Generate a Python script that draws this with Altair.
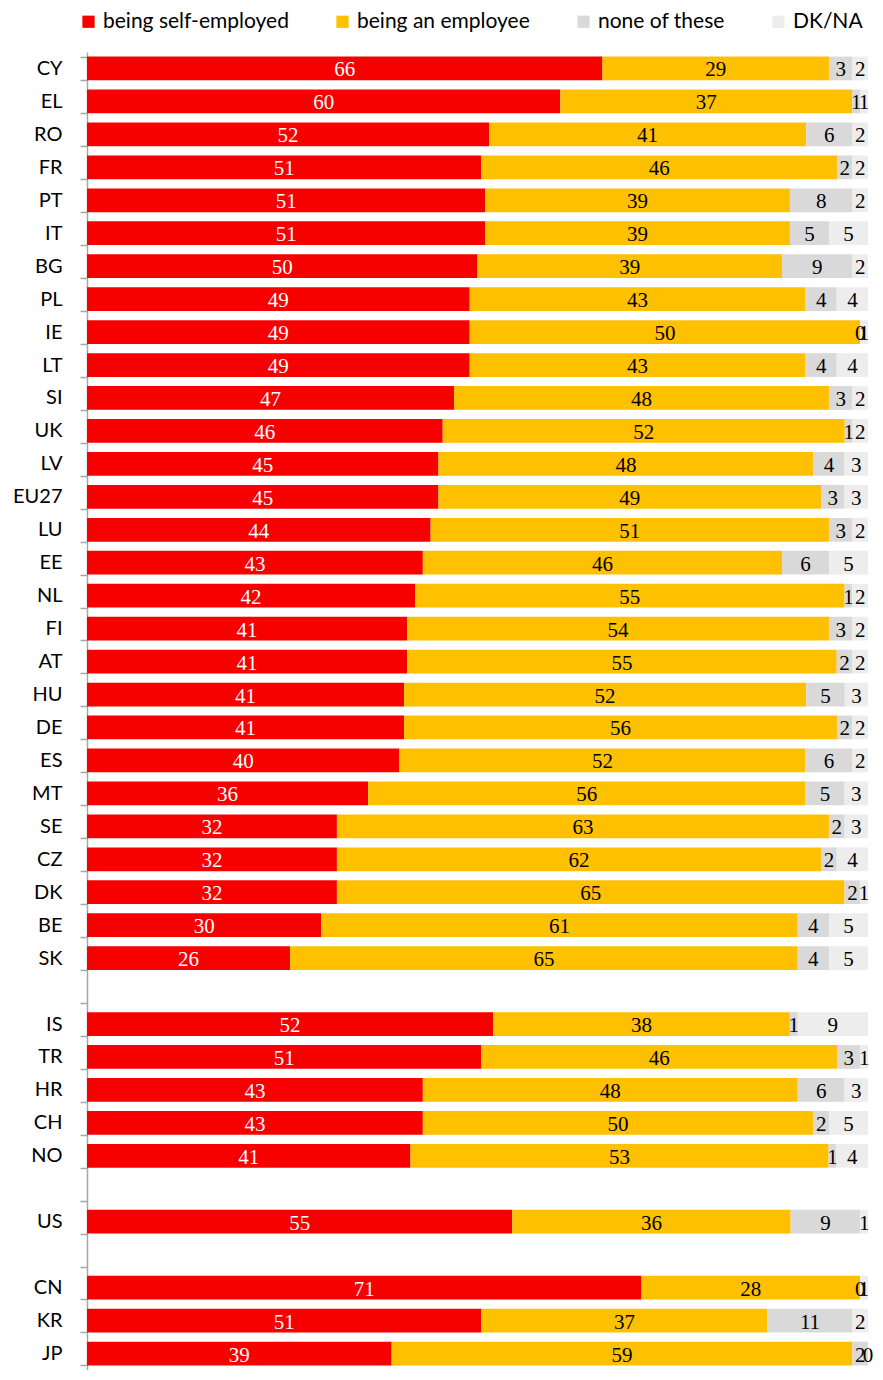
import altair as alt
import pandas as pd

countries = ["CY", "EL", "RO", "FR", "PT", "IT", "BG", "PL", "IE", "LT", "SI", "UK", "LV", "EU27",
             "LU", "EE", "NL", "FI", "AT", "HU", "DE", "ES", "MT", "SE", "CZ", "DK", "BE", "SK",
             "IS", "TR", "HR", "CH", "NO", "US", "CN", "KR", "JP"]
self_employed = [66, 60, 52, 51, 51, 51, 50, 49, 49, 49, 47, 46, 45, 45,
                 44, 43, 42, 41, 41, 41, 41, 40, 36, 32, 32, 32, 30, 26,
                 52, 51, 43, 43, 41, 55, 71, 51, 39]
employee = [29, 37, 41, 46, 39, 39, 39, 43, 50, 43, 48, 52, 48, 49,
            51, 46, 55, 54, 55, 52, 56, 52, 56, 63, 62, 65, 61, 65,
            38, 46, 48, 50, 53, 36, 28, 37, 59]
none_of_these = [3, 1, 6, 2, 8, 5, 9, 4, 0, 4, 3, 1, 4, 3,
                 3, 6, 1, 3, 2, 5, 2, 6, 5, 2, 2, 2, 4, 4,
                 1, 3, 6, 2, 1, 9, 0, 11, 2]
dk_na = [2, 1, 2, 2, 2, 5, 2, 4, 1, 4, 2, 2, 3, 3,
         2, 5, 2, 2, 2, 3, 2, 2, 3, 3, 4, 1, 5, 5,
         9, 1, 3, 5, 4, 1, 1, 2, 0]
categories = ["being self-employed", "being an employee", "none of these", "DK/NA"]
colors = ["#F60000", "#FFC000", "#D9D9D9", "#EDEDED"]

# row order with blank spacer rows between groups
row_order = countries[:28] + [" "] + countries[28:33] + ["  "] + ["US"] + ["   "] + countries[34:]

rows = []
for i, c in enumerate(countries):
    for k, (cat, vals) in enumerate(zip(categories, [self_employed, employee, none_of_these, dk_na])):
        rows.append({"country": c, "cat": cat, "order": k, "value": vals[i]})
df = pd.DataFrame(rows)

base = alt.Chart(df).transform_stack(
    stack="value", groupby=["country"], as_=["v0", "v1"], offset="normalize",
    sort=[alt.SortField("order", order="ascending")]
).transform_calculate(mid="(datum.v0 + datum.v1) / 2")

yenc = alt.Y("country:N",
             scale=alt.Scale(domain=row_order, paddingInner=0.28, paddingOuter=0.14),
             axis=alt.Axis(title=None, tickBand="extent", domainColor="#A6A6A6", tickColor="#A6A6A6",
                           tickSize=7, labelPadding=18, labelFont="Lato", labelFontSize=20,
                           labelColor="#000000", domainWidth=1.5, tickWidth=1.5))

bars = base.mark_bar().encode(
    x=alt.X("v0:Q", axis=None, scale=alt.Scale(domain=[0, 1], nice=False)),
    x2="v1:Q",
    y=yenc,
    color=alt.Color("cat:N", scale=alt.Scale(domain=categories, range=colors),
                    legend=alt.Legend(title=None, orient="none", legendX=-9, legendY=-41,
                                      direction="horizontal",
                                      symbolType="square", symbolSize=150, symbolStrokeWidth=0,
                                      labelFont="Lato", labelFontSize=21, labelColor="#000000",
                                      columnPadding=43, labelOffset=4, labelLimit=300)),
)

texts = base.mark_text(font="Liberation Serif", fontSize=21, baseline="middle", dy=2).encode(
    x=alt.X("mid:Q"),
    y=alt.Y("country:N", scale=alt.Scale(domain=row_order)),
    text=alt.Text("value:Q"),
    color=alt.condition(alt.datum.cat == "being self-employed", alt.value("#FFFFFF"), alt.value("#000000")),
)

chart = alt.layer(bars, texts).properties(
    width=781, height=1318,
    padding={"left": 4, "top": 3, "right": 0, "bottom": 0},
).configure_view(stroke=None)

chart.save("out.html", embed_options={"renderer": "svg", "actions": False})
